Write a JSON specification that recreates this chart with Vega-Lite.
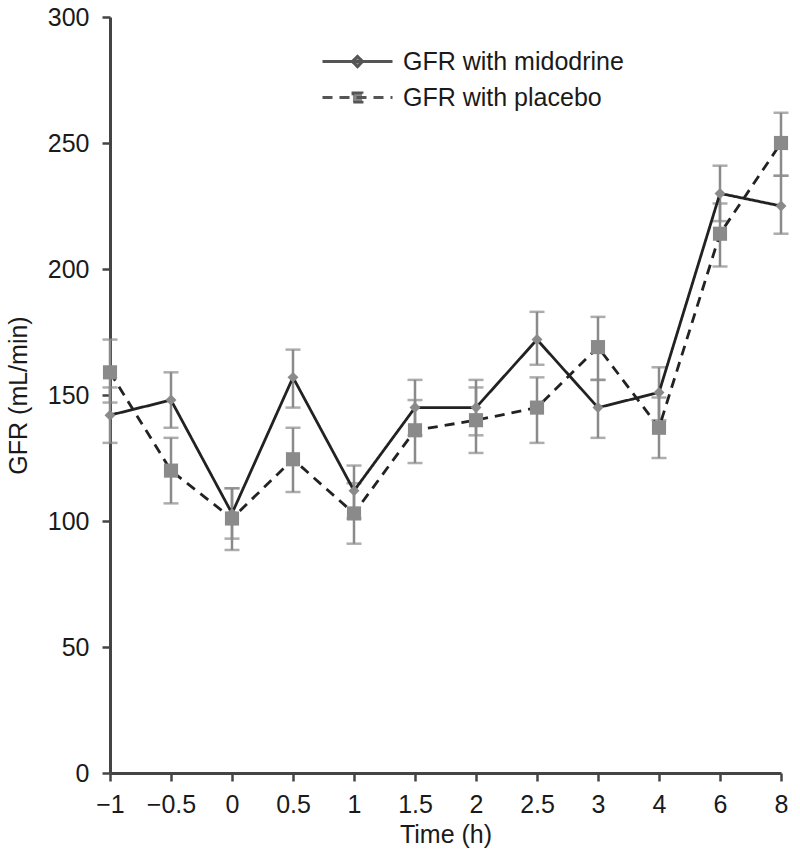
{
  "$schema": "https://vega.github.io/schema/vega-lite/v6.json",
  "autosize": "none",
  "width": 671,
  "height": 756,
  "padding": {"left": 110, "top": 17, "right": 19, "bottom": 89},
  "background": "white",
  "config": {
    "font": "Liberation Sans",
    "view": {"stroke": null},
    "axis": {
      "labelFont": "Liberation Sans",
      "titleFont": "Liberation Sans",
      "labelFontSize": 25,
      "titleFontSize": 25,
      "titleFontWeight": "normal",
      "labelColor": "#1a1a1a",
      "titleColor": "#1a1a1a",
      "domainColor": "#444",
      "domainWidth": 3,
      "tickColor": "#444",
      "tickWidth": 2.5,
      "tickSize": 8,
      "grid": false
    }
  },
  "data": {
    "values": [
      {"t": "−1", "series": "GFR with midodrine", "gfr": 142, "lo": 131, "hi": 153},
      {"t": "−0.5", "series": "GFR with midodrine", "gfr": 148, "lo": 137, "hi": 159},
      {"t": "0", "series": "GFR with midodrine", "gfr": 103, "lo": 93, "hi": 113},
      {"t": "0.5", "series": "GFR with midodrine", "gfr": 157, "lo": 145, "hi": 168},
      {"t": "1", "series": "GFR with midodrine", "gfr": 112, "lo": 101, "hi": 122},
      {"t": "1.5", "series": "GFR with midodrine", "gfr": 145, "lo": 134, "hi": 156},
      {"t": "2", "series": "GFR with midodrine", "gfr": 145, "lo": 134, "hi": 156},
      {"t": "2.5", "series": "GFR with midodrine", "gfr": 172, "lo": 162, "hi": 183},
      {"t": "3", "series": "GFR with midodrine", "gfr": 145, "lo": 133, "hi": 156},
      {"t": "4", "series": "GFR with midodrine", "gfr": 151, "lo": 140, "hi": 161},
      {"t": "6", "series": "GFR with midodrine", "gfr": 230, "lo": 219, "hi": 241},
      {"t": "8", "series": "GFR with midodrine", "gfr": 225, "lo": 214, "hi": 237},
      {"t": "−1", "series": "GFR with placebo", "gfr": 159, "lo": 147, "hi": 172},
      {"t": "−0.5", "series": "GFR with placebo", "gfr": 120, "lo": 107, "hi": 133},
      {"t": "0", "series": "GFR with placebo", "gfr": 101, "lo": 88.5, "hi": 113},
      {"t": "0.5", "series": "GFR with placebo", "gfr": 124.5, "lo": 111.5, "hi": 137},
      {"t": "1", "series": "GFR with placebo", "gfr": 103, "lo": 91, "hi": 115},
      {"t": "1.5", "series": "GFR with placebo", "gfr": 136, "lo": 123, "hi": 148},
      {"t": "2", "series": "GFR with placebo", "gfr": 140, "lo": 127, "hi": 153},
      {"t": "2.5", "series": "GFR with placebo", "gfr": 145, "lo": 131, "hi": 157},
      {"t": "3", "series": "GFR with placebo", "gfr": 169, "lo": 156, "hi": 181},
      {"t": "4", "series": "GFR with placebo", "gfr": 137, "lo": 125, "hi": 149},
      {"t": "6", "series": "GFR with placebo", "gfr": 214, "lo": 201, "hi": 226},
      {"t": "8", "series": "GFR with placebo", "gfr": 250, "lo": 237, "hi": 262}
    ]
  },
  "encoding": {
    "x": {
      "field": "t",
      "type": "ordinal",
      "sort": ["−1", "−0.5", "0", "0.5", "1", "1.5", "2", "2.5", "3", "4", "6", "8"],
      "scale": {"type": "point", "padding": 0},
      "axis": {"title": "Time (h)", "labelAngle": 0, "labelPadding": 11, "titlePadding": 5}
    }
  },
  "layer": [
    {
      "mark": {"type": "rule", "color": "#8a8a8a", "strokeWidth": 2.5},
      "encoding": {
        "y": {"field": "lo", "type": "quantitative"},
        "y2": {"field": "hi"}
      }
    },
    {
      "mark": {"type": "tick", "color": "#8a8a8a", "thickness": 2.5, "size": 15, "orient": "horizontal"},
      "encoding": {"y": {"field": "lo", "type": "quantitative"}}
    },
    {
      "mark": {"type": "tick", "color": "#8a8a8a", "thickness": 2.5, "size": 15, "orient": "horizontal"},
      "encoding": {"y": {"field": "hi", "type": "quantitative"}}
    },
    {
      "mark": {"type": "line", "color": "#222", "strokeWidth": 2.8},
      "encoding": {
        "y": {
          "field": "gfr",
          "type": "quantitative",
          "scale": {"domain": [0, 300], "nice": false},
          "axis": {"title": "GFR (mL/min)", "values": [0, 50, 100, 150, 200, 250, 300], "labelPadding": 13, "titlePadding": 16}
        },
        "strokeDash": {
          "field": "series",
          "type": "nominal",
          "scale": {"domain": ["GFR with midodrine", "GFR with placebo"], "range": [[1, 0], [10, 7]]},
          "legend": {
            "title": null,
            "orient": "none",
            "legendX": 235,
            "legendY": 32,
            "labelFontSize": 25,
            "labelColor": "#1a1a1a",
            "labelFont": "Liberation Sans",
            "labelLimit": 500,
            "symbolSize": 196,
            "symbolStrokeWidth": 2.8,
            "symbolStrokeColor": "#555",
            "labelOffset": 33,
            "rowPadding": 10,
            "encode": {
              "symbols": {
                "update": {
                  "shape": {"signal": "datum.value === 'GFR with midodrine' ? 'M-5,0H5M0,-0.75L0.75,0L0,0.75L-0.75,0Z' : 'M-5,0H5M-0.65,-0.65H0.65V0.65H-0.65Z'"},
                  "fill": {"value": "#888"},
                  "stroke": {"value": "#555"}
                }
              }
            }
          }
        }
      }
    },
    {
      "transform": [{"filter": "datum.series === 'GFR with midodrine'"}],
      "mark": {"type": "point", "shape": "diamond", "filled": true, "color": "#8a8a8a", "size": 120, "opacity": 1},
      "encoding": {"y": {"field": "gfr", "type": "quantitative"}}
    },
    {
      "transform": [{"filter": "datum.series === 'GFR with placebo'"}],
      "mark": {"type": "point", "shape": "square", "filled": true, "color": "#8a8a8a", "size": 200, "opacity": 1},
      "encoding": {"y": {"field": "gfr", "type": "quantitative"}}
    }
  ]
}
